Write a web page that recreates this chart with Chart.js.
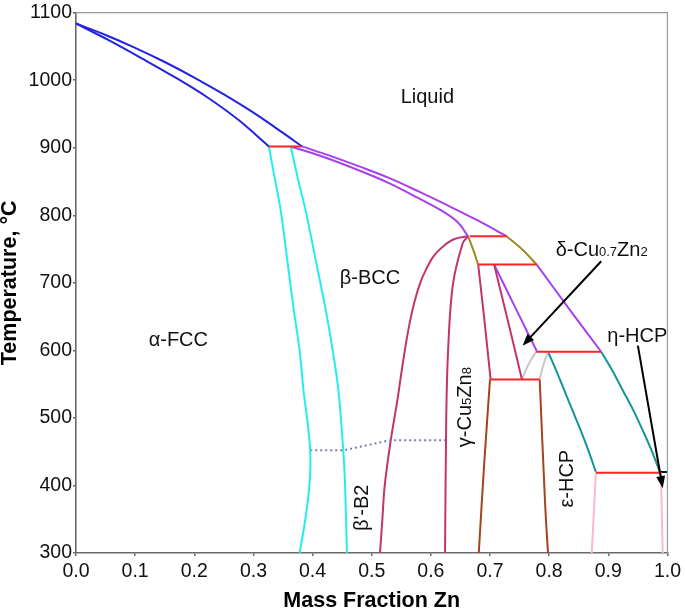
<!DOCTYPE html>
<html>
<head>
<meta charset="utf-8">
<script src="https://cdn.jsdelivr.net/npm/chart.js@4.4.1/dist/chart.umd.min.js"></script>
<style>
    html, body { margin: 0; padding: 0; background: #fff; }
    #contenedor { width: 685px; height: 612px; }
</style>
</head>
<body>
<div id="contenedor"><canvas id="diagramaFases"></canvas></div>
<script>
/* ==================
    DATOS (x = fraccion masica Zn, y = °C)
================== */

const ticksX = [0, 0.1, 0.2, 0.3, 0.4, 0.5, 0.6, 0.7, 0.8, 0.9, 1.0];
const ticksY = [300, 400, 500, 600, 700, 800, 900, 1000, 1100];

const liquidusAlfa = [[0, 1084], [0.05, 1067], [0.1, 1048], [0.15, 1027], [0.2, 1004], [0.25, 979], [0.3, 952], [0.35, 922], [0.382, 902]];
const solidusAlfa = [[0, 1084], [0.056, 1059], [0.112, 1032], [0.17, 1003], [0.225, 973], [0.275, 941], [0.326, 902]];
const solvusAlfa = [[0.326, 902], [0.336, 855], [0.346, 808], [0.357, 735], [0.368, 661], [0.378, 600], [0.385, 538], [0.392, 490], [0.396, 450], [0.396, 420], [0.393, 385], [0.386, 340], [0.378, 300]];
const solvusBeta = [[0.363, 902], [0.375, 855], [0.388, 808], [0.405, 735], [0.422, 661], [0.434, 600], [0.444, 538], [0.452, 450], [0.455, 400], [0.458, 300]];
const ordenBeta = [[0.396, 452], [0.452, 452], [0.531, 467], [0.624, 467]];
const liquidusBeta = [[0.382, 902], [0.43, 888], [0.48, 872], [0.53, 855], [0.58, 835], [0.63, 814], [0.68, 792], [0.728, 769]];
const solidusBeta = [[0.363, 902], [0.42, 886], [0.48, 866], [0.531, 847], [0.58, 825], [0.616, 808], [0.645, 790], [0.663, 769]];

const gammaIzq = [[0.663, 769], [0.640, 765], [0.622, 755], [0.605, 740], [0.592, 720], [0.582, 700], [0.572, 671], [0.564, 640], [0.556, 600], [0.549, 560], [0.543, 524], [0.532, 466], [0.522, 400], [0.518, 350], [0.514, 300]];
const gammaCentro = [[0.663, 769], [0.654, 759], [0.637, 696], [0.629, 597], [0.626, 500], [0.624, 300]];
const gammaDer = [[0.680, 727], [0.691, 641], [0.701, 557]];
const deltaIzq = [[0.707, 727], [0.731, 641], [0.754, 557]];

const liquidusGamma = [[0.663, 769], [0.672, 748], [0.680, 727]];
const liquidusDelta = [[0.728, 769], [0.755, 749], [0.779, 727]];
const solidusDelta = [[0.707, 727], [0.743, 663], [0.779, 599]];
const liquidusEps = [[0.779, 727], [0.835, 660], [0.888, 598]];

const solvusDeltaIzq = [[0.754, 557], [0.766, 581], [0.778, 598]];
const solvusDeltaDer = [[0.784, 557], [0.790, 578], [0.798, 598]];

const solvusGamma = [[0.700, 557], [0.690, 430], [0.681, 300]];
const solvusEpsIzq = [[0.784, 557], [0.793, 376], [0.798, 300]];

const solidusEps = [[0.798, 598], [0.812, 570], [0.826, 540], [0.840, 510], [0.854, 480], [0.867, 450], [0.879, 420]];
const liquidusEta = [[0.888, 598], [0.907, 570], [0.925, 540], [0.943, 510], [0.959, 480], [0.974, 450], [0.987, 420]];
const solvusEpsDer = [[0.879, 419], [0.872, 300]];
const solvusEta = [[0.989, 419], [0.992, 300]];
const solidusEta = [[0.989, 420], [1.0, 420]];

const isotermas = [
    [[0.326, 902], [0.382, 902]],
    [[0.666, 769], [0.728, 769]],
    [[0.680, 727], [0.779, 727]],
    [[0.778, 598], [0.888, 598]],
    [[0.700, 557], [0.784, 557]],
    [[0.879, 419], [0.989, 419]],
];

/* ==================
    ESTILO
================== */

const FUENTE = "'Liberation Sans', Arial, sans-serif";

function curva(puntos, color, extra) {
    return Object.assign({
        data: puntos,
        borderColor: color,
        borderWidth: 2,
        pointRadius: 0,
        tension: 0.35,
        fill: false,
    }, extra || {});
}

const datasets = [
    curva(liquidusAlfa, "#2323e0"),
    curva(solidusAlfa, "#2323e0"),
    curva(solvusAlfa, "#22eef0"),
    curva(solvusBeta, "#22eef0"),
    curva(ordenBeta, "#7c7cb4", { borderDash: [2, 3], tension: 0 }),
    curva(liquidusBeta, "#a840ec"),
    curva(solidusBeta, "#a840ec"),
    curva(gammaIzq, "#c2346e"),
    curva(gammaCentro, "#c2346e"),
    curva(gammaDer, "#c2346e"),
    curva(deltaIzq, "#c2346e"),
    curva(liquidusGamma, "#9c8a26"),
    curva(liquidusDelta, "#9c8a26"),
    curva(solidusDelta, "#a840ec"),
    curva(liquidusEps, "#a840ec"),
    curva(solvusDeltaIzq, "#c8c8c8"),
    curva(solvusDeltaDer, "#c8c8c8"),
    curva(solvusGamma, "#a2441e"),
    curva(solvusEpsIzq, "#a2441e"),
    curva(solidusEps, "#189494"),
    curva(liquidusEta, "#189494"),
    curva(solvusEpsDer, "#ffb8c8"),
    curva(solvusEta, "#ffb8c8"),
    curva(solidusEta, "#111111"),
];

isotermas.forEach((linea) => {
    datasets.push(curva(linea, "#ff2424", { order: -1, tension: 0 }));
});

/* ==================
    ETIQUETAS Y FLECHAS
================== */

const etiquetas = [
    { texto: "Liquid", x: 0.594, y: 975 },
    { texto: "β-BCC", x: 0.497, y: 706 },
    { texto: "α-FCC", x: 0.173, y: 615 },
    { texto: "η-HCP", x: 0.949, y: 621 },
    { texto: "β'-B2", x: 0.484, y: 367, vertical: true },
    { texto: "ε-HCP", x: 0.831, y: 410, vertical: true },
];

const flechas = [
    [[0.888, 732], [0.755, 607]],
    [[0.950, 607], [0.992, 396]],
];

function dibujarTextoCompuesto(ctx, partes, x, y) {
    let cursor = x;
    partes.forEach(([texto, tam]) => {
        ctx.font = tam + "px " + FUENTE;
        ctx.fillText(texto, cursor, y);
        cursor += ctx.measureText(texto).width;
    });
    return cursor - x;
}

function anchoCompuesto(ctx, partes) {
    let ancho = 0;
    partes.forEach(([texto, tam]) => {
        ctx.font = tam + "px " + FUENTE;
        ancho += ctx.measureText(texto).width;
    });
    return ancho;
}

function dibujarFlecha(ctx, x1, y1, x2, y2) {
    const ang = Math.atan2(y2 - y1, x2 - x1);
    const largo = 12;
    const ancho = 4.5;
    const cos = Math.cos(ang);
    const sin = Math.sin(ang);
    ctx.beginPath();
    ctx.moveTo(x1, y1);
    ctx.lineTo(x2 - cos * largo * 0.8, y2 - sin * largo * 0.8);
    ctx.stroke();
    ctx.beginPath();
    ctx.moveTo(x2, y2);
    ctx.lineTo(x2 - largo * cos + ancho * sin, y2 - largo * sin - ancho * cos);
    ctx.lineTo(x2 - largo * cos - ancho * sin, y2 - largo * sin + ancho * cos);
    ctx.closePath();
    ctx.fill();
}

const anotaciones = {
    id: "anotaciones",
    afterDraw(chart) {
        const { ctx, chartArea, scales } = chart;
        const px = (v) => scales.x.getPixelForValue(v);
        const py = (v) => scales.y.getPixelForValue(v);

        ctx.save();
        // marco superior y derecho
        ctx.strokeStyle = "#9a9a9a";
        ctx.lineWidth = 1.2;
        ctx.beginPath();
        ctx.moveTo(chartArea.left, chartArea.top);
        ctx.lineTo(chartArea.right, chartArea.top);
        ctx.lineTo(chartArea.right, chartArea.bottom);
        ctx.stroke();

        ctx.fillStyle = "#111";
        ctx.textAlign = "center";
        ctx.textBaseline = "middle";
        etiquetas.forEach((e) => {
            ctx.font = "20px " + FUENTE;
            if (e.vertical) {
                ctx.save();
                ctx.translate(px(e.x), py(e.y));
                ctx.rotate(-Math.PI / 2);
                ctx.fillText(e.texto, 0, 0);
                ctx.restore();
            } else {
                ctx.fillText(e.texto, px(e.x), py(e.y));
            }
        });

        // δ-Cu0.7Zn2
        ctx.textAlign = "left";
        ctx.textBaseline = "alphabetic";
        dibujarTextoCompuesto(ctx, [["δ-Cu", 20], ["0.7", 13], ["Zn", 20], ["2", 13]], px(0.811), py(740));

        // γ-Cu5Zn8 vertical
        const partesGamma = [["γ-Cu", 20], ["5", 13], ["Zn", 20], ["8", 13]];
        const anchoGamma = anchoCompuesto(ctx, partesGamma);
        ctx.save();
        ctx.translate(px(0.668), py(516));
        ctx.rotate(-Math.PI / 2);
        dibujarTextoCompuesto(ctx, partesGamma, -anchoGamma / 2, 0);
        ctx.restore();

        ctx.strokeStyle = "#000";
        ctx.fillStyle = "#000";
        ctx.lineWidth = 2;
        flechas.forEach(([a, b]) => {
            dibujarFlecha(ctx, px(a[0]), py(a[1]), px(b[0]), py(b[1]));
        });
        ctx.restore();
    },
};

/* ==================
    GRAFICA
================== */

function crearDiagrama() {
    const canvas = document.getElementById("diagramaFases");
    if (!canvas || typeof Chart === "undefined") {
        return;
    }

    new Chart(canvas.getContext("2d"), {
        type: "line",
        data: { datasets: datasets },
        plugins: [anotaciones],
        options: {
            responsive: true,
            maintainAspectRatio: false,
            animation: false,
            events: [],
            layout: { padding: { top: 8, right: 16, left: 0, bottom: 0 } },
            plugins: {
                legend: { display: false },
                tooltip: { enabled: false },
            },
            scales: {
                x: {
                    type: "linear",
                    min: 0,
                    max: 1,
                    afterBuildTicks: (scale) => {
                        scale.ticks = ticksX.map((v) => ({ value: v }));
                    },
                    afterFit: (scale) => {
                        scale.height = 59;
                    },
                    ticks: {
                        font: { family: FUENTE, size: 19.5 },
                        color: "#111",
                        padding: 4,
                        maxRotation: 0,
                        autoSkip: false,
                        callback: (v) => Number(v).toFixed(1),
                    },
                    grid: { drawOnChartArea: false, tickLength: 3, color: "#666", lineWidth: 1.5 },
                    border: { color: "#6a6a6a", width: 1.6 },
                    title: {
                        display: true,
                        text: "Mass Fraction Zn",
                        color: "#000",
                        font: { family: FUENTE, size: 21.5, weight: "bold", lineHeight: 1 },
                        padding: 0,
                    },
                },
                y: {
                    type: "linear",
                    min: 300,
                    max: 1100,
                    afterBuildTicks: (scale) => {
                        scale.ticks = ticksY.map((v) => ({ value: v }));
                    },
                    afterFit: (scale) => {
                        scale.width = 76;
                    },
                    ticks: {
                        font: { family: FUENTE, size: 19.5 },
                        color: "#111",
                        padding: 1,
                        autoSkip: false,
                        callback: (v) => String(v),
                    },
                    grid: { drawOnChartArea: false, tickLength: 3, color: "#666", lineWidth: 1.5 },
                    border: { color: "#6a6a6a", width: 1.6 },
                    title: {
                        display: true,
                        text: "Temperature, °C",
                        color: "#000",
                        font: { family: FUENTE, size: 21.5, weight: "bold", lineHeight: 0.9 },
                        padding: 0,
                    },
                },
            },
        },
    });
}

if (document.readyState === "loading") {
    document.addEventListener("DOMContentLoaded", crearDiagrama);
} else {
    crearDiagrama();
}
</script>
</body>
</html>
